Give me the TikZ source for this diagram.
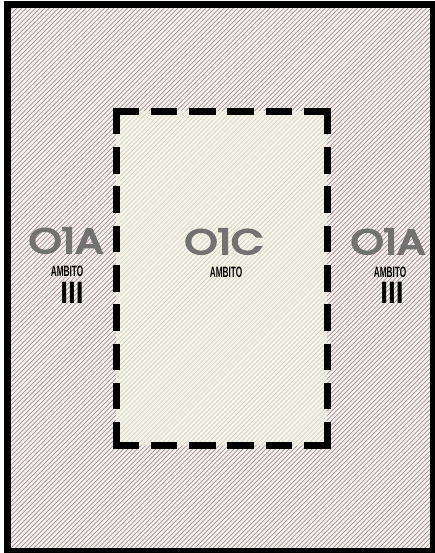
\documentclass[tikz,border=0pt]{standalone}
\usepackage{fontspec}
\setmainfont{Liberation Sans}
\newfontfamily\zonefont[UprightFeatures={FakeBold=5}]{Poppins}
\definecolor{plotpink}{HTML}{F7F0F0}
\definecolor{plothatch}{HTML}{A09292}
\definecolor{corecream}{HTML}{F5F4EA}
\definecolor{corehatch}{HTML}{D8D5C5}
\definecolor{codegray}{HTML}{727272}
\tikzset{
  zonecode/.style  = {font=\zonefont\fontsize{35}{35}\selectfont,
                      text=codegray, xscale=1.2, inner sep=0pt},
  zonetag/.style   = {font=\bfseries\fontsize{15}{15}\selectfont, xscale=0.55,
                      inner sep=0pt},
  zonelevel/.style = {font=\bfseries\fontsize{31}{31}\selectfont, xscale=0.9,
                      inner sep=0pt},
  hatch/.style     = {line width=0.7pt},
  cutline/.style   = {draw, line width=7pt, black, line cap=butt,
                      shorten <=-3.5pt, shorten >=-3.5pt},
  plotedge/.style  = {draw, line width=7pt, black},
}
\begin{document}
\begin{tikzpicture}[x=1pt, y=-1pt]
  \useasboundingbox (0,0) rectangle (435,553);
  \clip (0,0) rectangle (435,553);
  % plot boundary and inner zone corners
  \coordinate (pnw) at (7.5,5);
  \coordinate (pse) at (433.5,551.5);
  \coordinate (nw) at (116,111.5);
  \coordinate (ne) at (327,111.5);
  \coordinate (sw) at (116,445);
  \coordinate (se) at (327,445);
  % outer hatched area
  \fill[plotpink] (pnw) rectangle (pse);
  \begin{scope}
    \clip (pnw) rectangle (pse);
    \foreach \c in {-560,-555.4,...,440}
      \draw[hatch, plothatch] (\c,553) -- ++(553,-553);
  \end{scope}
  % inner zone
  \fill[corecream] (nw) rectangle (se);
  \begin{scope}
    \clip (nw) rectangle (se);
    \foreach \c in {-560,-555.4,...,440}
      \draw[hatch, corehatch] (\c,553) -- ++(553,-553);
  \end{scope}
  \draw[cutline, dash pattern=on 26.5 off 11.8] (nw) -- (ne);
  \draw[cutline, dash pattern=on 26.5 off 11.8] (sw) -- (se);
  \draw[cutline, dash pattern=on 26.5 off 12.75] (nw) -- (sw);
  \draw[cutline, dash pattern=on 26.5 off 12.75] (ne) -- (se);
  \draw[plotedge] (pnw) rectangle (pse);
  % labels
  \node[zonecode, anchor=base] (westcode) at (66,253) {O1A};
  \node[zonetag, anchor=base] (westtag) at (67,276) {AMBITO};
  \node[zonelevel, anchor=base] (westlevel) at (72,303) {III};
  \node[zonecode, anchor=base] (corecode) at (224,254) {O1C};
  \node[zonetag, anchor=base] (coretag) at (226,277) {AMBITO};
  \node[zonecode, anchor=base] (eastcode) at (388,254) {O1A};
  \node[zonetag, anchor=base] (easttag) at (390,277) {AMBITO};
  \node[zonelevel, anchor=base] (eastlevel) at (392,303) {III};
\end{tikzpicture}
\end{document}
